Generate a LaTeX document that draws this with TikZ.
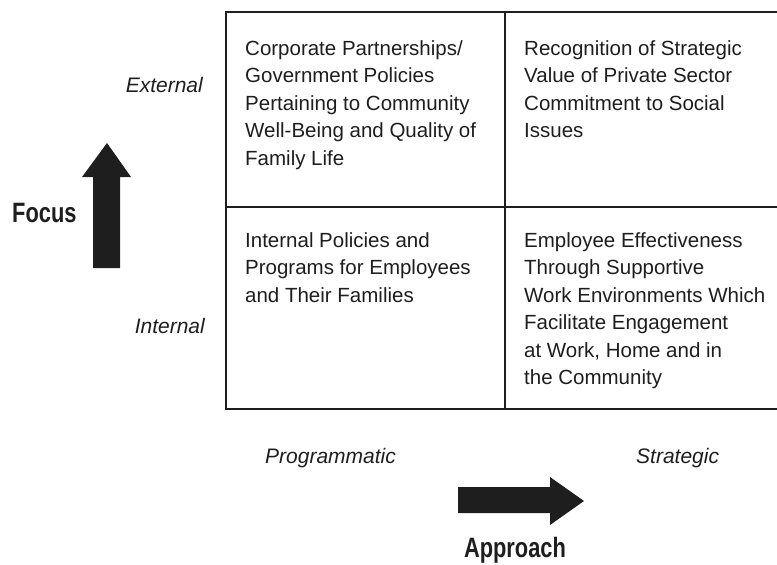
\documentclass[tikz,border=0pt]{standalone}
\usepackage{fontspec}
\setmainfont{Liberation Sans}
\newfontfamily\condfont[FakeStretch=0.78]{Liberation Sans}
\definecolor{ink}{HTML}{1E1E1E}
\tikzset{
  gridline/.style={line width=2.8pt, draw=ink},
  celltext/.style={anchor=north west, align=left, inner sep=0pt, text=ink,
    font=\fontsize{20.5}{27.5}\selectfont},
  axislabel/.style={inner sep=0pt, text=ink, font=\fontsize{21}{25}\selectfont\itshape},
  axistitle/.style={inner sep=0pt, text=ink, font=\condfont\bfseries\fontsize{28}{32}\selectfont},
  bigarrow/.style={fill=ink, draw=none}
}
\begin{document}
\begin{tikzpicture}[x=1pt,y=-1pt]
\useasboundingbox (0,0) rectangle (777,565);
% grid
\coordinate (tl) at (226,12);
\coordinate (tr) at (777,12);
\coordinate (bl) at (226,409);
\coordinate (br) at (777,409);
\coordinate (ml) at (226,207);
\coordinate (mr) at (777,207);
\coordinate (mt) at (505,12);
\coordinate (mb) at (505,409);
\draw[gridline] (tr) -- (tl) -- (bl) -- (br);
\draw[gridline, line width=2.4pt] (ml) -- (mr);
\draw[gridline, line width=2.4pt] (mt) -- (mb);
% cells
\node[celltext] (c11) at (245,40) {Corporate Partnerships/\\Government Policies\\Pertaining to Community\\Well-Being and Quality of\\Family Life};
\node[celltext] (c12) at (524,40) {Recognition of Strategic\\Value of Private Sector\\Commitment to Social\\Issues};
\node[celltext] (c21) at (245,232) {Internal Policies and\\Programs for Employees\\and Their Families};
\node[celltext] (c22) at (524,232) {Employee Effectiveness\\Through Supportive\\Work Environments Which\\Facilitate Engagement\\at Work, Home and in\\the Community};
% axis labels
\node[axislabel, anchor=base east] (ext) at (203,92) {External};
\node[axislabel, anchor=base east] (int) at (205,333) {Internal};
\node[axislabel, anchor=base west] (prog) at (265,463) {Programmatic};
\node[axislabel, anchor=base west] (strat) at (636,463) {Strategic};
\node[axistitle, anchor=base west] (focus) at (12,222) {Focus};
\node[axistitle, anchor=base] (appr) at (515,557) {Approach};
% arrows
\fill[bigarrow] (93,268) -- (93,177) -- (82,177) -- (107,143) -- (131,177) -- (120,177) -- (120,268) -- cycle;
\fill[bigarrow] (458,487) -- (550,487) -- (550,477) -- (584,501) -- (550,525) -- (550,513) -- (458,513) -- cycle;
\end{tikzpicture}
\end{document}
